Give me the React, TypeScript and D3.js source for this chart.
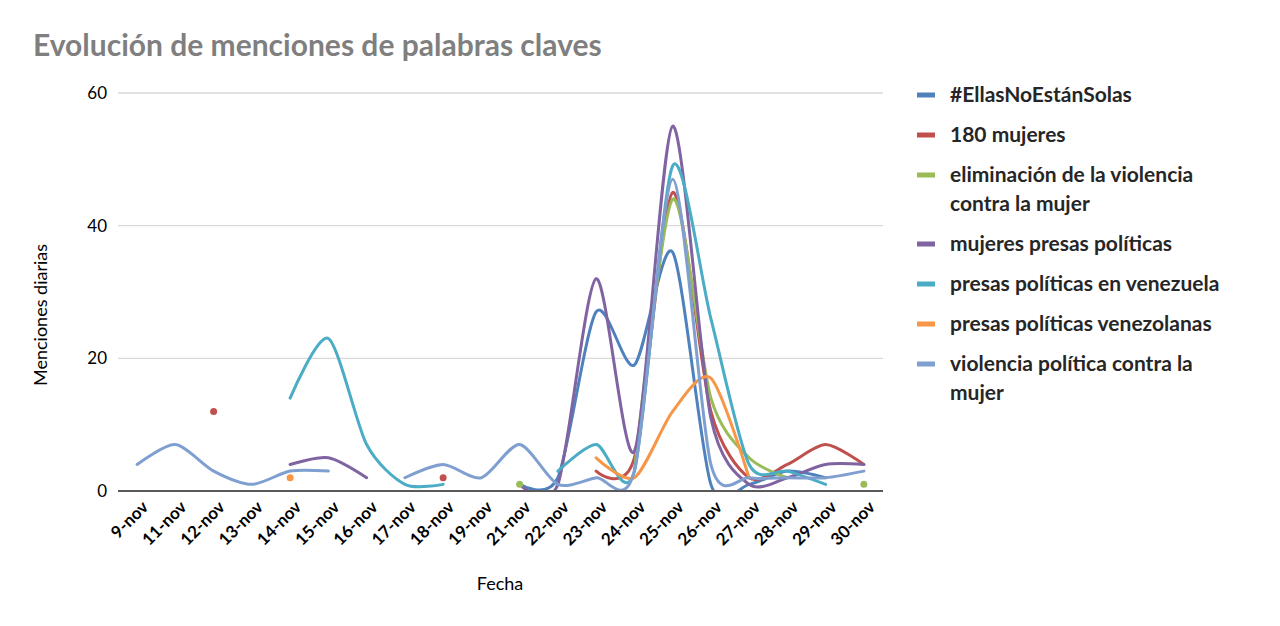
// ─ Imports ──────────────────────────────────────────────────────────────────────
import * as d3 from 'd3';
import { ReactElement, useEffect, useRef } from 'react';

// ─ Data ─────────────────────────────────────────────────────────────────────────
type Val = number | null;

const dates: string[] = [
  '9-nov', '11-nov', '12-nov', '13-nov', '14-nov', '15-nov', '16-nov', '17-nov', '18-nov', '19-nov',
  '21-nov', '22-nov', '23-nov', '24-nov', '25-nov', '26-nov', '27-nov', '28-nov', '29-nov', '30-nov'
];

const ellasNoEstanSolas: Val[] = [null, null, null, null, null, null, null, null, null, null, 1, 2, 27, 19, 36, 1, 1, 3, 2, null];
const mujeres180: Val[] = [null, null, 12, null, null, null, null, null, 2, null, null, null, 3, 5, 45, 12, 2, 4, 7, 4];
const eliminacionViolencia: Val[] = [null, null, null, null, null, null, null, null, null, null, 1, null, null, 3, 44, 14, 5, 2, null, 1];
const mujeresPresas: Val[] = [null, null, null, null, 4, 5, 2, null, null, null, 1, 1, 32, 6, 55, 11, 1, 2, 4, 4];
const presasVenezuela: Val[] = [null, null, null, null, 14, 23, 7, 1, 1, null, null, 3, 7, 3, 49, 26, 4, 3, 1, null];
const presasVenezolanas: Val[] = [null, null, null, null, 2, null, null, null, null, null, null, null, 5, 2, 12, 17, 2, null, null, null];
const violenciaPolitica: Val[] = [4, 7, 3, 1, 3, 3, null, 2, 4, 2, 7, 1, 2, 3, 47, 4, 2, 2, 2, 3];

const seriesNames: string[][] = [
  ['#EllasNoEstánSolas'],
  ['180 mujeres'],
  ['eliminación de la violencia', 'contra la mujer'],
  ['mujeres presas políticas'],
  ['presas políticas en venezuela'],
  ['presas políticas venezolanas'],
  ['violencia política contra la', 'mujer']
];
const seriesValues: Val[][] = [
  ellasNoEstanSolas, mujeres180, eliminacionViolencia, mujeresPresas,
  presasVenezuela, presasVenezolanas, violenciaPolitica
];
const seriesColors: string[] = ['#4F81BD', '#C0504D', '#9BBB59', '#8064A2', '#4BACC6', '#F79646', '#7F9FD0'];

const yTicks: number[] = [0, 20, 40, 60];

const FONT = 'Lato, "Open Sans", sans-serif';

// ─ Component ────────────────────────────────────────────────────────────────────
const App = (): ReactElement => {
  const svgRef = useRef<SVGSVGElement>(null);

  useEffect(() => {
    if (!svgRef.current) { return; }
    const svg = d3.select(svgRef.current);
    svg.selectAll('*').remove();

    const width = 1280;
    const height = 626;
    const plot = { left: 118, right: 883, top: 93, bottom: 491 };

    svg.attr('width', width).attr('height', height);
    svg.append('rect').attr('width', width).attr('height', height).attr('fill', '#FFFFFF');

    const xScale = d3.scalePoint<string>()
      .domain(dates)
      .range([plot.left, plot.right])
      .padding(0.5);

    const yScale = d3.scaleLinear()
      .domain([0, 60])
      .range([plot.bottom, plot.top]);

    // Title
    svg.append('text')
      .attr('x', 33)
      .attr('y', 56)
      .style('font-family', FONT)
      .style('font-weight', 'bold')
      .style('font-size', '30px')
      .style('fill', '#7F7F7F')
      .text('Evolución de menciones de palabras claves');

    // Grid lines
    svg.append('g')
      .selectAll('line')
      .data(yTicks.filter(t => t > 0))
      .enter()
      .append('line')
      .attr('x1', plot.left)
      .attr('x2', plot.right)
      .attr('y1', d => yScale(d))
      .attr('y2', d => yScale(d))
      .attr('stroke', '#D9D9D9')
      .attr('stroke-width', 1.3);

    // Y tick labels
    svg.append('g')
      .selectAll('text')
      .data(yTicks)
      .enter()
      .append('text')
      .attr('x', 107)
      .attr('y', d => yScale(d))
      .attr('dy', '0.35em')
      .attr('text-anchor', 'end')
      .style('font-family', FONT)
      .style('font-size', '17px')
      .style('fill', '#000000')
      .text(d => String(d));

    // Clip for the lines
    svg.append('clipPath')
      .attr('id', 'plot-clip')
      .append('rect')
      .attr('x', plot.left)
      .attr('y', plot.top - 10)
      .attr('width', plot.right - plot.left)
      .attr('height', plot.bottom - plot.top + 10);

    const line = d3.line<Val>()
      .defined(d => d !== null)
      .x((_, i) => xScale(dates[i]) || 0)
      .y(d => yScale(d as number))
      .curve(d3.curveCardinal.tension(0.2));

    const linesGroup = svg.append('g').attr('clip-path', 'url(#plot-clip)');

    seriesValues.forEach((values, si) => {
      linesGroup.append('path')
        .attr('d', line(values) || '')
        .attr('fill', 'none')
        .attr('stroke', seriesColors[si])
        .attr('stroke-width', 3)
        .attr('stroke-linecap', 'round')
        .attr('stroke-linejoin', 'round');

      // Isolated values show as dots
      const lonely = values
        .map((v, i) => ({ v, i }))
        .filter(({ v, i }) => v !== null && (values[i - 1] ?? null) === null && (values[i + 1] ?? null) === null);

      svg.append('g')
        .selectAll('circle')
        .data(lonely)
        .enter()
        .append('circle')
        .attr('cx', d => xScale(dates[d.i]) || 0)
        .attr('cy', d => yScale(d.v as number))
        .attr('r', 3.5)
        .attr('fill', seriesColors[si]);
    });

    // X axis line
    svg.append('line')
      .attr('x1', plot.left)
      .attr('x2', plot.right)
      .attr('y1', plot.bottom)
      .attr('y2', plot.bottom)
      .attr('stroke', '#595959')
      .attr('stroke-width', 2);

    // X tick labels
    svg.append('g')
      .selectAll('text')
      .data(dates)
      .enter()
      .append('text')
      .attr('transform', d => `translate(${(xScale(d) || 0) + 8},${plot.bottom + 13}) rotate(-45)`)
      .attr('text-anchor', 'end')
      .attr('dy', '0.35em')
      .style('font-family', FONT)
      .style('font-weight', 'bold')
      .style('font-size', '17px')
      .style('fill', '#000000')
      .text(d => d);

    // Axis titles
    svg.append('text')
      .attr('transform', 'translate(47,315) rotate(-90)')
      .attr('text-anchor', 'middle')
      .style('font-family', FONT)
      .style('font-size', '18px')
      .style('fill', '#000000')
      .text('Menciones diarias');

    svg.append('text')
      .attr('x', 500)
      .attr('y', 590)
      .attr('text-anchor', 'middle')
      .style('font-family', FONT)
      .style('font-size', '18px')
      .style('fill', '#000000')
      .text('Fecha');

    // Legend
    const legendRows = [95, 135, 175, 244, 284, 324, 364];
    const legend = svg.append('g');
    seriesNames.forEach((lines, si) => {
      const cy = legendRows[si];
      legend.append('rect')
        .attr('x', 917)
        .attr('y', cy - 2.5)
        .attr('width', 18)
        .attr('height', 5)
        .attr('fill', seriesColors[si]);
      lines.forEach((txt, li) => {
        legend.append('text')
          .attr('x', 950)
          .attr('y', cy + 7 + li * 29)
          .style('font-family', FONT)
          .style('font-weight', 'bold')
          .style('font-size', '21px')
          .style('fill', '#262626')
          .text(txt);
      });
    });
  }, []);

  return (
    <div style={{ position: 'fixed', left: 0, top: 0, width: 1280, height: 626, background: '#FFFFFF' }}>
      <svg ref={svgRef} style={{ display: 'block' }} />
    </div>
  );
};

// ─ Exports ──────────────────────────────────────────────────────────────────────
export default App;
